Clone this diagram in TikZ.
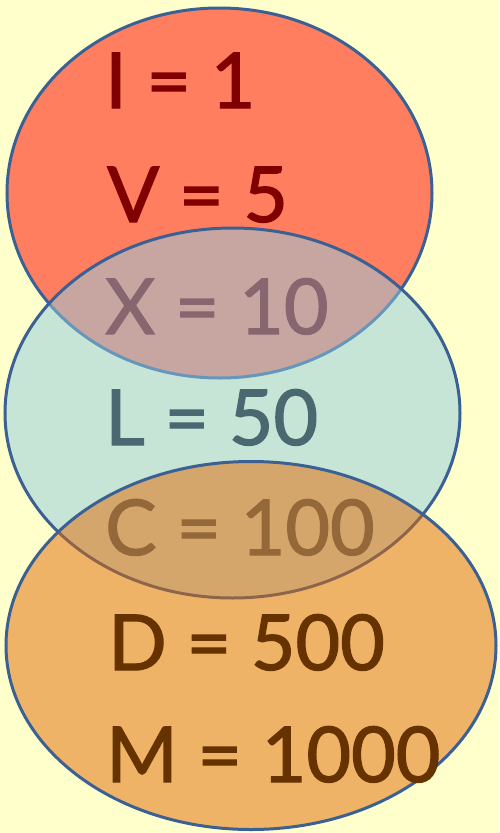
\documentclass[tikz,border=0pt]{standalone}
\usepackage{fontspec}
\setmainfont{Lato}
\newfontfamily\numeralfont{Lato}[FakeBold=1.6]
\definecolor{bgyellow}{RGB}{255,255,204}
\definecolor{edgeblue}{RGB}{59,96,148}
\definecolor{redfill}{RGB}{255,126,96}
\definecolor{tealfill}{RGB}{145,205,224}
\definecolor{orangefill}{RGB}{225,105,4}
\definecolor{darkred}{RGB}{128,0,0}
\definecolor{slate}{RGB}{74,104,112}
\definecolor{darkbrown}{RGB}{102,51,0}
\begin{document}
\begin{tikzpicture}[x=1pt,y=-1pt,
  ring/.style={draw=edgeblue,line width=3pt},
  numeral/.style={anchor=base west,inner sep=0pt,font=\numeralfont\fontsize{77}{80}\selectfont}]
\fill[bgyellow] (0,0) rectangle (499,833);
\useasboundingbox (0,0) rectangle (499,833);
% red ellipse
\path[ring,fill=redfill] (219.5,193) ellipse [x radius=212.5pt,y radius=185pt];
\node[numeral,text=darkred] (one) at (105,108) {I = 1};
\node[numeral,text=darkred] (five) at (107,222) {V = 5};
\node[numeral,text=darkred] (ten) at (105,334) {X = 10};
% teal ellipse
\path[ring,fill=tealfill,fill opacity=0.5] (232.5,413) ellipse [x radius=227.5pt,y radius=185pt];
\node[numeral,text=slate] (fifty) at (105,445) {L = 50};
\node[numeral,text=slate] (hundred) at (105,555) {C = 100};
% orange ellipse
\path[ring,fill=orangefill,fill opacity=0.5] (251,645.5) ellipse [x radius=245pt,y radius=184pt];
\node[numeral,text=darkbrown] (fivehundred) at (108,670) {D = 500};
\node[numeral,text=darkbrown] (thousand) at (106,782) {M = 1000};
\end{tikzpicture}
\end{document}
